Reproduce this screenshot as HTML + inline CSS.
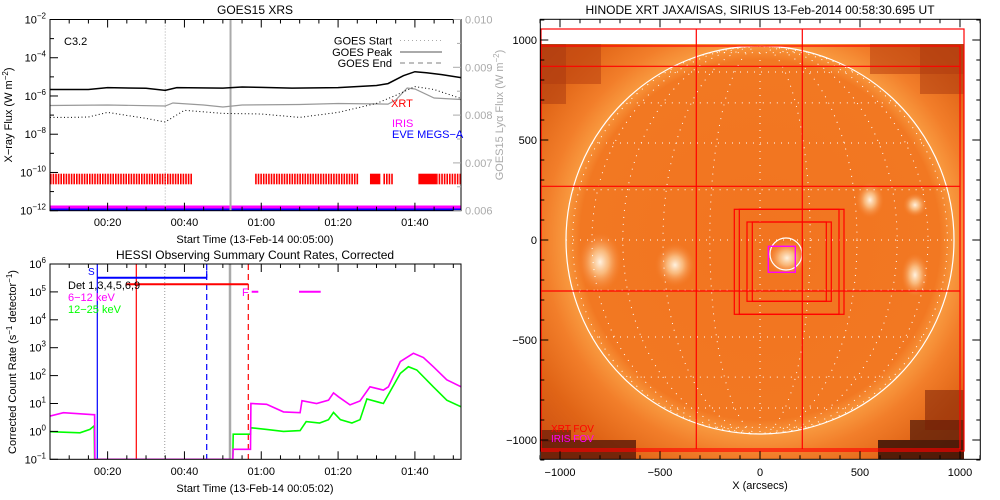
<!DOCTYPE html>
<html><head><meta charset="utf-8"><style>
html,body{margin:0;padding:0;background:#fff;}
svg{display:block;font-family:"Liberation Sans",sans-serif;}
</style></head><body>
<svg id="s" width="1000" height="500" viewBox="0 0 1000 500" xmlns="http://www.w3.org/2000/svg">
<defs>
<radialGradient id="sunG" cx="760" cy="240" r="300" gradientUnits="userSpaceOnUse">
<stop offset="0" stop-color="#f27420"/>
<stop offset="0.6" stop-color="#f27822"/>
<stop offset="0.65" stop-color="#f8983e"/>
<stop offset="0.72" stop-color="#f27e2a"/>
<stop offset="0.85" stop-color="#e06416"/>
<stop offset="1" stop-color="#cc5012"/>
</radialGradient>
<radialGradient id="blob"><stop offset="0" stop-color="#fff2e0"/><stop offset="0.4" stop-color="#fbc890" stop-opacity="0.8"/><stop offset="1" stop-color="#f58030" stop-opacity="0"/></radialGradient>
<clipPath id="topClip"><rect x="50" y="19.5" width="411" height="191.2"/></clipPath>
<clipPath id="botClip"><rect x="50" y="264" width="411" height="195.3"/></clipPath>
<clipPath id="imgClip"><rect x="541" y="44" width="423" height="415"/></clipPath>
</defs>
<g id="topPanel"></g>
<g id="botPanel"></g>
<g id="imgPanel"></g>
</svg>
<script>
// ---------- GOES data (t = minutes since 00:05:00) ----------
const goesLongT = [0,10,15,25,30,33,45,50,55,63,75,85,88,92,95,98,102,107];
const goesLongLog = [-5.66,-5.66,-5.56,-5.6,-5.71,-5.56,-5.59,-5.53,-5.55,-5.59,-5.56,-5.45,-5.35,-4.94,-4.73,-4.78,-4.88,-5.04];
const goesShortT = [0,5,10,15,25,30,35,45,55,65,75,85,90,95,100,107];
const goesShortLog = [-7.12,-7.12,-7.1,-6.86,-7.17,-7.36,-6.75,-6.91,-6.94,-7.12,-6.86,-6.39,-5.97,-5.51,-5.66,-6.13];
const lyaT = [0,15,30,32,40,45,50,65,75,88,90,93,95,100,107];
const lyaVal = [0.008201,0.008211,0.00819,0.008253,0.008211,0.00817,0.008211,0.008222,0.008243,0.00823,0.008316,0.008567,0.008546,0.008358,0.008326];
const goesTickLabels = ["00:20","00:40","01:00","01:20","01:40"];
const goesTickT = [15,35,55,75,95];
const xrtSeg = [[0,36.7,"s"],[53.4,80.2,"s"],[83.3,86.0,"f"],[86.8,89.3,"s"],[95.9,100.5,"f"],[100.5,107,"s"]];
const goesStartT = 30, goesPeakT = 47;
// ---------- HESSI data ----------
const magT = [0,3.5,11.3,11.6,11.7,47.6,47.7,52.2,52.3,56.4,60.8,65.1,65.6,69.4,72.5,73.8,75.1,78.1,80.7,83.3,86.8,88.1,91.2,94.6,97.2,99.8,103.3,107];
const magLog = [0.55,0.67,0.6,0.6,-1.2,-1.2,-0.64,-0.64,1.0,0.97,0.7,0.67,1.1,1.0,1.12,1.38,1.24,0.95,1.09,1.6,1.48,1.6,2.5,2.8,2.65,2.32,1.85,1.6];
const grnT = [0,7.8,10.4,11.5,11.6,47.6,47.7,52.2,52.3,56.4,60.8,65.1,66.7,70.2,72.5,73.8,75.6,78.6,80.7,82.5,86.8,87.6,91.2,93.3,95.5,99.8,103.3,107];
const grnLog = [-0.01,-0.05,0.07,0.2,-1.2,-1.2,-0.1,-0.1,0.13,0.07,0,0.03,0.35,0.3,0.42,0.68,0.42,0.3,0.42,1.16,1.0,1.2,2.08,2.32,2.2,1.6,1.12,0.88];
const hessiDecades = [-1,0,1,2,3,4,5,6];
// ---------- XRT image axes ----------
const arcTicks = [-1000,-500,0,500,1000];

const NS="http://www.w3.org/2000/svg";
function el(p,tag,attrs,text){const n=document.createElementNS(NS,tag);for(const k in attrs)n.setAttribute(k,attrs[k]);if(text!==undefined)n.textContent=text;p.appendChild(n);return n;}
const xT=t=>50+t*411/107;
const yT=l=>19.5+(-2-l)*19.12;
const yL=v=>210.7-(v-0.006)*47800;
const yB=l=>264+(6-l)*27.9;
function sup(p,x,y,base,exp,anchor,fill){const t=el(p,'text',{x:x,y:y,'font-size':11,'text-anchor':anchor||'end',fill:fill||'#000'});const a=document.createElementNS(NS,'tspan');a.textContent=base;t.appendChild(a);const b=document.createElementNS(NS,'tspan');b.setAttribute('dy','-5');b.setAttribute('font-size','8');b.textContent=exp;t.appendChild(b);return t;}
function pathFrom(T,V,fx,fy){return T.map((t,i)=>(i?'L':'M')+fx(t).toFixed(1)+','+fy(V[i]).toFixed(1)).join(' ');}

// ================= TOP PANEL =================
const topG=document.getElementById('topPanel');
let e=el(topG,'text',{x:255,y:14,'font-size':12,'text-anchor':'middle'},'GOES15 XRS');


const gx=el(topG,'g',{'clip-path':'url(#topClip)'});


xrtSeg.forEach(s=>{
  const x0=xT(s[0]),x1=xT(s[1]);
  if(s[2]==="f"){el(gx,'rect',{x:x0,y:173.7,width:x1-x0,height:10.6,fill:'#ff0000'});}
  else{for(let x=x0;x<x1;x+=2.6){el(gx,'rect',{x:x,y:173.7,width:1.6,height:10.6,fill:'#ff0000'});}}
});
e=el(topG,'rect',{x:50,y:205.5,width:411,height:3,fill:'#ff00ff'});


e=el(topG,'rect',{x:50,y:208.5,width:411,height:2.2,fill:'#0000ff'});


e=el(topG,'line',{x1:xT(goesStartT),x2:xT(goesStartT),y1:19.5,y2:210.7,stroke:'#aaa','stroke-width':1,'stroke-dasharray':'1 2'});


e=el(topG,'line',{x1:xT(goesPeakT),x2:xT(goesPeakT),y1:19.5,y2:210.7,stroke:'#aaa','stroke-width':2});


const gs=el(topG,'g',{'clip-path':'url(#topClip)'});
e=el(gs,'path',{d:pathFrom(lyaT,lyaVal,xT,yL),fill:'none',stroke:'#999','stroke-width':1.2});


e=el(gs,'path',{d:pathFrom(goesShortT,goesShortLog,xT,yT),fill:'none',stroke:'#000','stroke-width':1,'stroke-dasharray':'1 2.5'});


e=el(gs,'path',{d:pathFrom(goesLongT,goesLongLog,xT,yT),fill:'none',stroke:'#000','stroke-width':1.5});


e=el(topG,'rect',{x:50,y:19.5,width:411,height:191.2,fill:'none',stroke:'#000','stroke-width':1});


for(let l=-12;l<=-2;l++){const y=yT(l);const len=(l%2===0)?8:4;el(topG,'line',{x1:50,x2:50+len,y1:y,y2:y,stroke:'#000'});}
for(let l=-12;l<=-2;l+=2){e=sup(topG,46,yT(l)+4,'10','\u2212'+(-l));

}
for(let k=0;k<=8;k++){const v=0.006+k*0.0005;const y=yL(v);el(topG,'line',{x1:461,x2:461-(k%2===0?8:4),y1:y,y2:y,stroke:'#aaa'});}
[0.006,0.007,0.008,0.009,0.010].forEach(v=>{e=el(topG,'text',{x:465,y:yL(v)+4,'font-size':11,fill:'#aaa'},v.toFixed(3));

});
for(let t=0;t<=107;t+=5){const x=xT(t);const major=goesTickT.includes(t);el(topG,'line',{x1:x,x2:x,y1:210.7,y2:210.7-(major?8:4),stroke:'#000'});el(topG,'line',{x1:x,x2:x,y1:19.5,y2:19.5+(major?8:4),stroke:'#000'});}
goesTickLabels.forEach((s,i)=>{e=el(topG,'text',{x:xT(goesTickT[i]),y:226,'font-size':11,'text-anchor':'middle'},s);

});
e=el(topG,'text',{x:255,y:243,'font-size':11,'text-anchor':'middle'},'Start Time (13-Feb-14 00:05:00)');


e=el(topG,'text',{x:0,y:0,'font-size':11,'text-anchor':'middle',transform:'translate(12,115) rotate(-90)'});
e.innerHTML='X\u2212ray Flux (W m<tspan dy="-4" font-size="8">\u22122</tspan><tspan dy="4">)</tspan>';


e=el(topG,'text',{x:0,y:0,'font-size':11,'text-anchor':'middle',fill:'#aaa',transform:'translate(503,115) rotate(-90)'});
e.innerHTML='GOES15 Ly\u03b1 Flux (W m<tspan dy="-4" font-size="8">\u22122</tspan><tspan dy="4">)</tspan>';


e=el(topG,'text',{x:64,y:45,'font-size':11},'C3.2');


[['GOES Start',44.5,'1 3',1],['GOES Peak',56,'',2],['GOES End',67,'5 4',1.5]].forEach(r=>{
  e=el(topG,'text',{x:392,y:r[1],'font-size':11,'text-anchor':'end'},r[0]);
  
  
  el(topG,'line',{x1:400,x2:442,y1:r[1]-4,y2:r[1]-4,stroke:'#aaa','stroke-width':r[3],'stroke-dasharray':r[2]||'none'});
});
e=el(topG,'text',{x:391,y:107,'font-size':11,fill:'#ff0000'},'XRT');


e=el(topG,'text',{x:392,y:127,'font-size':11,fill:'#ff00ff'},'IRIS');


e=el(topG,'text',{x:392,y:138,'font-size':11,fill:'#0000ff'},'EVE MEGS\u2212A');



// ================= BOTTOM PANEL =================
const botG=document.getElementById('botPanel');
e=el(botG,'text',{x:255,y:259,'font-size':12,'text-anchor':'middle'},'HESSI Observing Summary Count Rates, Corrected');


const bs=el(botG,'g',{'clip-path':'url(#botClip)'});
[[97.3,'#0000ff',''],[136.3,'#ff0000',''],[164.7,'#aaa','1 2'],[206.7,'#0000ff','6 4'],[230,'#aaa',''],[248.3,'#ff0000','6 4']].forEach((v,i)=>{
  e=el(bs,'line',{x1:v[0],x2:v[0],y1:264,y2:459.3,stroke:v[1],'stroke-width':i==4?2.5:1.2,'stroke-dasharray':v[2]||'none'});
  
  
});
e=el(bs,'line',{x1:97.3,x2:206.7,y1:277.7,y2:277.7,stroke:'#0000ff','stroke-width':2});


el(bs,'line',{x1:206.7,x2:206.7,y1:270.5,y2:277.7,stroke:'#0000ff','stroke-width':1.2});
e=el(bs,'line',{x1:126,x2:248.3,y1:284.3,y2:284.3,stroke:'#ff0000','stroke-width':2});


e=el(bs,'line',{x1:251.7,x2:258.3,y1:291.7,y2:291.7,stroke:'#ff00ff','stroke-width':2});


e=el(bs,'line',{x1:299,x2:320.7,y1:291.7,y2:291.7,stroke:'#ff00ff','stroke-width':2});


const clampB=l=>Math.min(459.3,yB(l));
e=el(bs,'path',{d:pathFrom(grnT,grnLog,xT,clampB),fill:'none',stroke:'#00ff00','stroke-width':1.6});


e=el(bs,'path',{d:pathFrom(magT,magLog,xT,clampB),fill:'none',stroke:'#ff00ff','stroke-width':1.6});


e=el(botG,'rect',{x:50,y:264,width:411,height:195.3,fill:'none',stroke:'#000'});


hessiDecades.forEach(l=>{const y=yB(l);el(botG,'line',{x1:50,x2:58,y1:y,y2:y,stroke:'#000'});e=sup(botG,46,y+4,'10',l<0?'\u22121':String(l));

});
for(let t=0;t<=107;t+=5){const x=xT(t);const major=goesTickT.includes(t);el(botG,'line',{x1:x,x2:x,y1:459.3,y2:459.3-(major?8:4),stroke:'#000'});el(botG,'line',{x1:x,x2:x,y1:264,y2:264+(major?8:4),stroke:'#000'});}
goesTickLabels.forEach((s,i)=>{e=el(botG,'text',{x:xT(goesTickT[i]),y:475,'font-size':11,'text-anchor':'middle'},s);

});
e=el(botG,'text',{x:255,y:492,'font-size':11,'text-anchor':'middle'},'Start Time (13-Feb-14 00:05:02)');


e=el(botG,'text',{x:0,y:0,'font-size':11,'text-anchor':'middle',transform:'translate(16,362) rotate(-90)'});
e.innerHTML='Corrected Count Rate (s<tspan dy="-4" font-size="8">\u22121</tspan><tspan dy="4"> detector</tspan><tspan dy="-4" font-size="8">\u22121</tspan><tspan dy="4">)</tspan>';


e=el(botG,'text',{x:88,y:275,'font-size':10,fill:'#0000ff'},'S');


e=el(botG,'text',{x:242,y:296,'font-size':11,fill:'#ff00ff'},'F');


e=el(botG,'text',{x:68,y:289,'font-size':11},'Det 1,3,4,5,6,9');


e=el(botG,'text',{x:68,y:301,'font-size':11,fill:'#ff00ff'},'6\u221212 keV');


e=el(botG,'text',{x:68,y:313,'font-size':11,fill:'#00ff00'},'12\u221225 keV');



// ================= IMAGE PANEL =================
const imgG=document.getElementById('imgPanel');
const xA=a=>760+a*0.2, yA=a=>240-a*0.2;
e=el(imgG,'text',{x:760,y:14,'font-size':12,'text-anchor':'middle'},'HINODE XRT JAXA/ISAS, SIRIUS 13-Feb-2014 00:58:30.695 UT');


const ig=el(imgG,'g',{'clip-path':'url(#imgClip)'});


el(ig,'rect',{x:541,y:44,width:423,height:415,fill:'url(#sunG)'});
[[541,44,60,40,'#b84010',0.55],[541,44,25,60,'#a83810',0.5],[870,44,94,30,'#b84010',0.55],[920,44,44,50,'#a83810',0.5],[541,440,95,19,'#5a1808',0.8],[878,440,86,19,'#3a1006',0.85],[910,420,54,20,'#501808',0.7],[925,390,39,40,'#7a2008',0.55],[541,430,30,12,'#6a1a08',0.7]].forEach(r=>el(ig,'rect',{x:r[0],y:r[1],width:r[2],height:r[3],fill:r[4],'fill-opacity':r[5]}));
[[600,262,22,30],[675,265,20,22],[787,258,20,18],[870,200,14,18],[915,205,12,12],[915,275,14,22]].forEach(b=>el(ig,'ellipse',{cx:b[0],cy:b[1],rx:b[2],ry:b[3],fill:'url(#blob)'}));
const R=194;
for(let lat=-75;lat<=75;lat+=15){const y=240-R*Math.sin(lat*Math.PI/180);const w=R*Math.cos(lat*Math.PI/180);el(ig,'line',{x1:760-w,x2:760+w,y1:y,y2:y,stroke:'#fff','stroke-width':1,'stroke-dasharray':'1 6'});}
for(let lon=15;lon<90;lon+=15){el(ig,'ellipse',{cx:760,cy:240,rx:R*Math.sin(lon*Math.PI/180),ry:R,fill:'none',stroke:'#fff','stroke-width':1,'stroke-dasharray':'1 6'});}
el(ig,'line',{x1:760,x2:760,y1:46,y2:434,stroke:'#fff','stroke-dasharray':'1 6'});
e=el(ig,'circle',{cx:760,cy:240,r:R,fill:'none',stroke:'#fff','stroke-width':1.2});


el(ig,'circle',{cx:786,cy:254,r:16,fill:'none',stroke:'#fff','stroke-width':1.2});
const red='#ff0000';
[[541,29,423,422],[541,46,419,403]].forEach(r=>el(imgG,'rect',{x:r[0],y:r[1],width:r[2],height:r[3],fill:'none',stroke:red,'stroke-width':1.2}));
[[696.3,29,696.3,449],[802.3,29,802.3,449],[541,66.3,960,66.3],[541,186.3,960,186.3],[541,291,960,291]].forEach(l=>el(imgG,'line',{x1:l[0],y1:l[1],x2:l[2],y2:l[3],stroke:red,'stroke-width':1.2}));
[[734.3,209.3,109.7,105],[739.3,209.3,99.7,105],[747,222,84.3,79.3],[752.3,222,74,79.3]].forEach(r=>{e=el(imgG,'rect',{x:r[0],y:r[1],width:r[2],height:r[3],fill:'none',stroke:red,'stroke-width':1.2});

});
e=el(imgG,'rect',{x:768.3,y:246.3,width:27,height:26,fill:'none',stroke:'#ff00ff','stroke-width':1.4});


e=el(imgG,'text',{x:551,y:432,'font-size':10,fill:red},'XRT FOV');


e=el(imgG,'text',{x:551,y:442,'font-size':10,fill:'#ff00ff'},'IRIS FOV');


e=el(imgG,'rect',{x:540.3,y:19.3,width:440,height:440,fill:'none',stroke:'#000'});


for(let a=-1100;a<=1100;a+=100){const x=xA(a),y=yA(a);const major=a%500===0;const L=major?8:4;
  el(imgG,'line',{x1:x,x2:x,y1:459.3,y2:459.3-L,stroke:'#000'});el(imgG,'line',{x1:x,x2:x,y1:19.3,y2:19.3+L,stroke:'#000'});
  el(imgG,'line',{x1:540.3,x2:540.3+L,y1:y,y2:y,stroke:'#000'});el(imgG,'line',{x1:980.3,x2:980.3-L,y1:y,y2:y,stroke:'#000'});}
arcTicks.forEach(a=>{const s=a<0?'\u2212'+(-a):String(a);
  e=el(imgG,'text',{x:xA(a),y:476,'font-size':11,'text-anchor':'middle'},s);
  
  
  e=el(imgG,'text',{x:537,y:yA(a)+4,'font-size':11,'text-anchor':'end'},s);
  
  });
e=el(imgG,'text',{x:760,y:489,'font-size':11,'text-anchor':'middle'},'X (arcsecs)');


</script>
</body></html>
